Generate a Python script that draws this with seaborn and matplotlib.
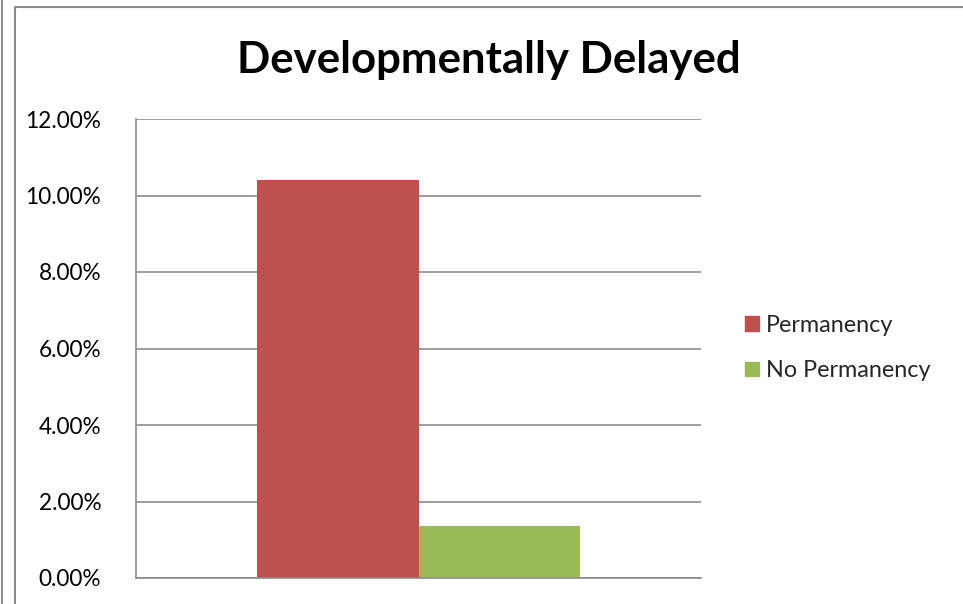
import matplotlib
matplotlib.use("Agg")
import matplotlib.pyplot as plt
import matplotlib.patches as mpatches
from matplotlib.lines import Line2D
from matplotlib.ticker import PercentFormatter
import pandas as pd
import seaborn as sns

# Data
groups = ["Permanency", "No Permanency"]
values = [10.40, 1.36]
colors = ["#C0504D", "#9BBB59"]
title = "Developmentally Delayed"

sns.set_style("white")
plt.rcParams["font.family"] = ["Lato", "DejaVu Sans"]

df = pd.DataFrame({"cat": ["" for _ in groups], "group": groups, "value": values})

fig = plt.figure(figsize=(9.63, 6.04), dpi=100)
ax = fig.add_axes([136 / 963, 26 / 604, 565 / 963, 459 / 604])

sns.barplot(data=df, x="cat", y="value", hue="group", hue_order=groups,
            palette=colors, width=0.57, saturation=1, linewidth=0,
            ax=ax, legend=False)

ax.set_xlim(-0.5, 0.5)
ax.set_ylim(0, 12)
ax.set_yticks([0, 2, 4, 6, 8, 10, 12])
ax.yaxis.set_major_formatter(PercentFormatter(decimals=2))
ax.set_xticks([])
ax.set_xlabel("")
ax.set_ylabel("")
ax.tick_params(axis="y", labelsize=16.3, length=0, pad=25, colors="black")
ax.yaxis.grid(True, color="#8c8c8c", linewidth=1.2)
ax.set_axisbelow(True)
for side in ["top", "right"]:
    ax.spines[side].set_visible(False)
for side in ["left", "bottom"]:
    ax.spines[side].set_color("#8c8c8c")
    ax.spines[side].set_linewidth(1.2)

# chart title
fig.text(489 / 963, 1 - 60 / 604, title, ha="center", va="center",
         fontsize=31.5, fontweight="bold", color="black")

# legend
handles = [mpatches.Patch(color=c, label=g) for g, c in zip(groups, colors)]
fig.legend(handles=handles, loc="center left", bbox_to_anchor=(724 / 963, 1 - 348 / 604),
           frameon=False, fontsize=16.8, handlelength=0.6, handleheight=0.6,
           handletextpad=0.3, labelspacing=1.05)

# outer chart frame
fig.add_artist(Line2D([2 / 963, 2 / 963], [0, 1], color="#8c8c8c", linewidth=1.5))
fig.add_artist(Line2D([15 / 963, 15 / 963, 1], [0, 1 - 7 / 604, 1 - 7 / 604],
                      color="#8c8c8c", linewidth=1.5))

fig.savefig("out.png", dpi=100)
